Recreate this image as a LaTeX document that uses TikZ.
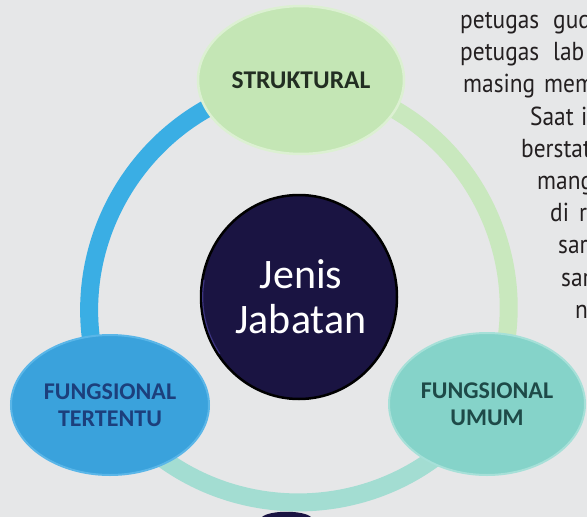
\documentclass[tikz,border=0pt]{standalone}
\usepackage{fontspec}
\setmainfont{Carlito}
\newfontfamily\parafont[FakeStretch=0.9]{PT Sans}
\usetikzlibrary{shapes.geometric}
\pgfdeclarelayer{back}
\pgfsetlayers{back,main}
\definecolor{bgc}{HTML}{E6E7E8}
\definecolor{ringblue}{HTML}{3AAEE4}
\definecolor{ringgreen}{HTML}{C9E8BE}
\definecolor{ringaqua}{HTML}{A3DDD2}
\definecolor{topfill}{HTML}{C4E6B5}
\definecolor{toprim}{HTML}{DCF0D2}
\definecolor{toptext}{HTML}{222E22}
\definecolor{leftfill}{HTML}{3AA2DC}
\definecolor{leftrim}{HTML}{5AB6E8}
\definecolor{lefttext}{HTML}{1C3F7C}
\definecolor{rightfill}{HTML}{85D3C9}
\definecolor{rightrim}{HTML}{A6E0D8}
\definecolor{righttext}{HTML}{1E4A48}
\definecolor{centerfill}{HTML}{1A1442}
\definecolor{centerrim}{HTML}{3C3480}
\definecolor{paratext}{HTML}{231F20}
\tikzset{
  oval/.style={ellipse, inner sep=0pt, align=center,
    font=\bfseries\fontsize{24}{27}\selectfont},
  ringline/.style={line width=18pt, bend angle=55, looseness=1.08},
  para/.style={anchor=base west, inner sep=0pt, text=paratext,
    font=\parafont\fontsize{26}{30}\selectfont},
}
\begin{document}
\begin{tikzpicture}[x=1pt,y=-1pt]
\useasboundingbox (0,0) rectangle (587,517);
\clip (0,0) rectangle (587,517);

% nodes
\node[oval, minimum width=206pt, minimum height=148pt, fill=topfill,
  draw=toprim, line width=2.5pt, text=toptext,
  font=\bfseries\fontsize{25.5}{27}\selectfont] (struk) at (301,80) {STRUKTURAL};
\node[oval, minimum width=198pt, minimum height=140pt, fill=leftfill,
  draw=leftrim, line width=2pt, text=lefttext] (tert) at (110,405)
  {FUNGSIONAL\\TERTENTU};
\node[oval, minimum width=196pt, minimum height=142pt, fill=rightfill,
  draw=rightrim, line width=2pt, text=righttext] (umum) at (487,404)
  {FUNGSIONAL\\UMUM};
\node[ellipse, minimum width=196pt, minimum height=204pt, fill=centerfill,
  draw=black, line width=2.5pt, inner sep=0pt] (jcirc) at (299,297) {};
\draw[centerrim, line width=1.2pt] ([shift={(3,0)}]jcirc.170) arc[start angle=170, end angle=215, x radius=95pt, y radius=99pt];
\node[text=white, align=center, inner sep=0pt,
  font=\fontsize{42}{45}\selectfont] (jenis) at (301,297) {Jenis\\Jabatan};

% small dark shape at the bottom edge
\fill[centerfill] (262,517) .. controls (270,510) and (303,510) .. (311,517) -- cycle;

% ring
\begin{pgfonlayer}{back}
\fill[bgc] (0,0) rectangle (587,517);
\draw[ringline, ringblue] (struk.center) to[bend right] (tert.center);
\draw[ringline, ringgreen] (struk.center) to[bend left] (umum.center);
\draw[ringline, ringaqua] (tert.center) to[bend right] (umum.center);
\end{pgfonlayer}

% paragraph fragment on the right
\node[para] (p1a) at (460,28) {petugas};
\node[para] (p1b) at (553,28) {gud};
\node[para] (p2a) at (460,60) {petugas};
\node[para] (p2b) at (553,60) {lab};
\node[para] (p3a) at (463,92) {masing};
\node[para] (p3b) at (544,92) {mem};
\node[para] (p4a) at (530,125) {Saat};
\node[para] (p4b) at (581,125) {i};
\node[para] (p5) at (521,157) {berstat};
\node[para] (p6) at (537,189) {mang};
\node[para] (p7a) at (550,221) {di};
\node[para] (p7b) at (579,221) {r};
\node[para] (p8) at (558,253) {sar};
\node[para] (p9) at (561,286) {sar};
\node[para] (p10) at (575,318) {n};
\end{tikzpicture}
\end{document}
